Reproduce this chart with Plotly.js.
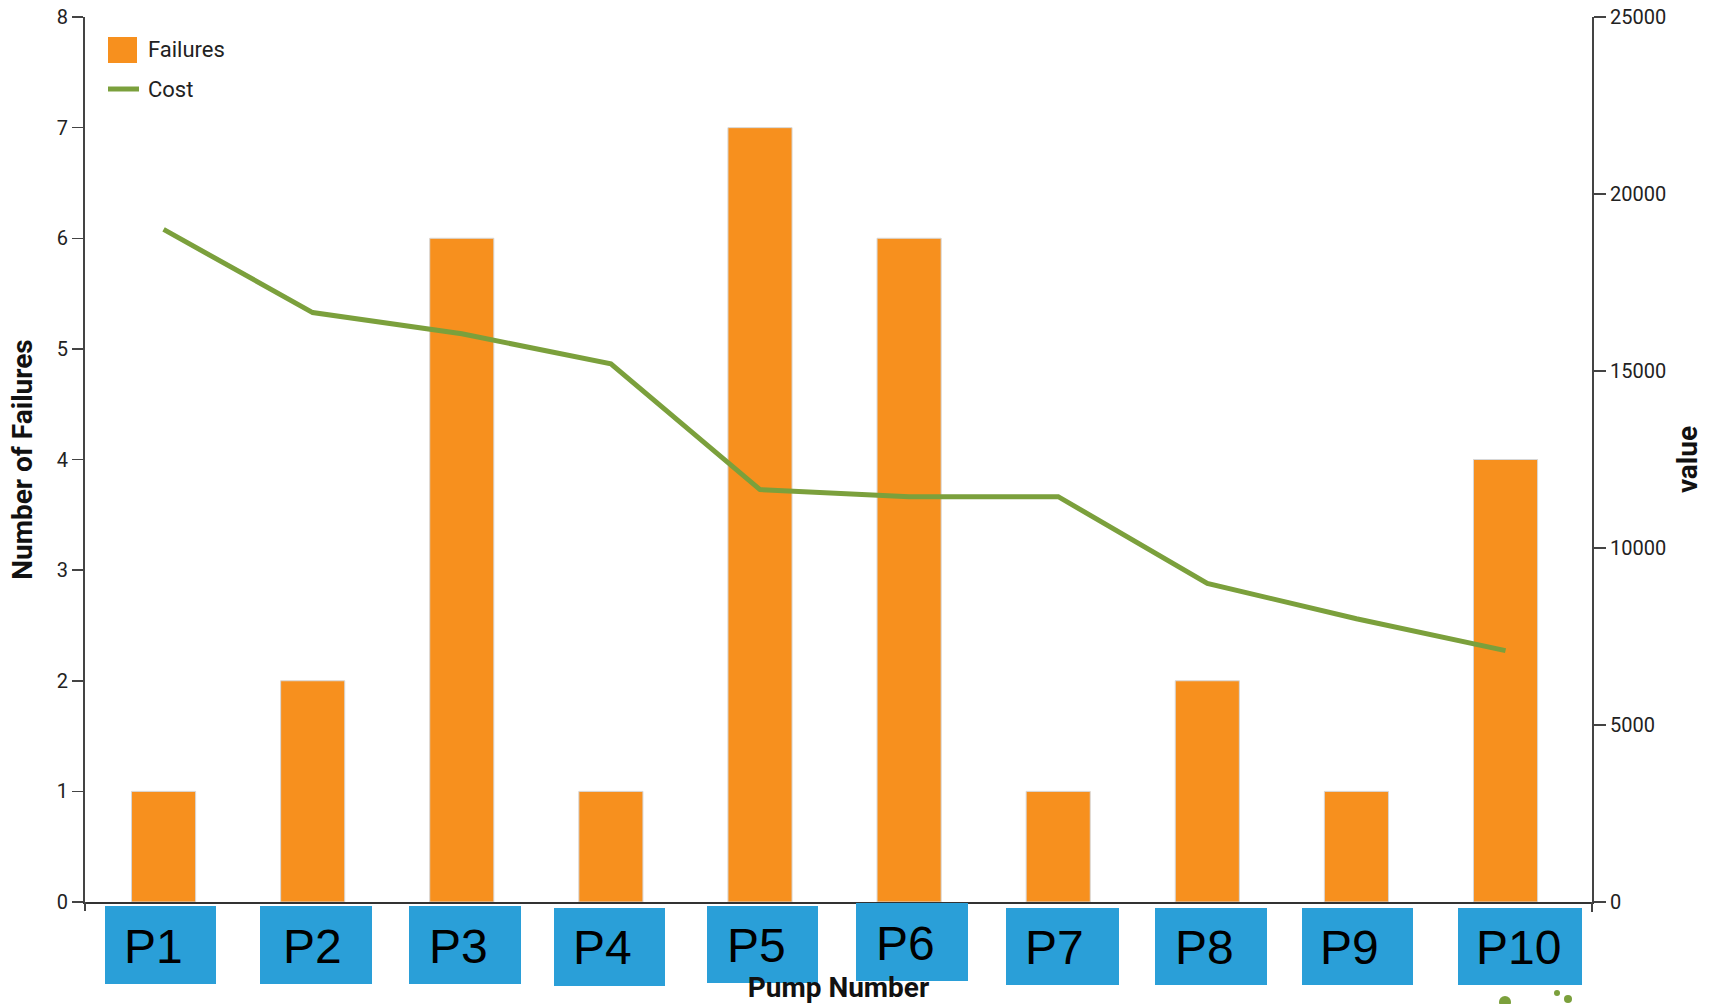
<!DOCTYPE html>
<html>
<head>
<meta charset="utf-8">
<script src="https://cdn.plot.ly/plotly-3.0.1.min.js"></script>
<style>html,body{margin:0;padding:0;background:#fff;}#chart{width:1711px;height:1004px;}</style>
</head>
<body>
<div id="chart"></div>
<script>
const pumps = ['P1','P2','P3','P4','P5','P6','P7','P8','P9','P10'];
const failures = [1, 2, 6, 1, 7, 6, 1, 2, 1, 4];
const cost = [19000, 16650, 16050, 15200, 11650, 11450, 11450, 9000, 8000, 7100];
const leftTicks = [0,1,2,3,4,5,6,7,8];
const rightTicks = [0,5000,10000,15000,20000,25000];

// Label box placement in page pixels (style only)
const boxLeftPx   = [105, 260, 409, 554, 707, 856, 1006, 1155, 1302, 1458];
const boxRightPx  = [216, 372, 521, 665, 818, 968, 1119, 1267, 1413, 1582];
const boxTopPx    = [906, 906, 906, 908, 906, 903, 908, 908, 908, 908];
const boxBottomPx = [984, 984, 984, 986, 983, 981, 985, 985, 985, 985];
const labelCenterPx = [153, 312, 458, 602, 756, 905, 1054, 1204, 1349, 1518];

const M = {l: 85, r: 119, t: 17, b: 102};
const W = 1711, H = 1004;
const PW = W - M.l - M.r, PH = H - M.t - M.b;
const px2x = p => (p - M.l) / PW;
const px2y = p => (H - M.b - p) / PH;

const tickFont = {family: 'Roboto, "DejaVu Sans", sans-serif', size: 20, color: '#222'};
const titleFont = {family: 'Roboto, "DejaVu Sans", sans-serif', size: 28, color: '#111', weight: 'bold'};
const legFont = {family: 'Roboto, sans-serif', size: 22, color: '#222'};

const traces = [
  {
    type: 'bar', name: 'Failures', x: pumps, y: failures,
    width: 0.43,
    marker: {color: '#F7901E', line: {color: 'rgba(215,215,215,1)', width: 1}},
    showlegend: false, hoverinfo: 'x+y'
  },
  {
    type: 'scatter', mode: 'lines', name: 'Cost', x: pumps, y: cost, yaxis: 'y2',
    line: {color: '#7BA03C', width: 5},
    showlegend: false
  }
];

const shapes = [];
pumps.forEach((p, i) => {
  shapes.push({
    type: 'rect', xref: 'paper', yref: 'paper',
    x0: px2x(boxLeftPx[i]), x1: px2x(boxRightPx[i]),
    y0: px2y(boxBottomPx[i]), y1: px2y(boxTopPx[i]),
    fillcolor: '#2A9FD8', line: {width: 0}, layer: 'above'
  });
});

const annotations = pumps.map((p, i) => ({
  xref: 'paper', yref: 'paper',
  x: px2x(labelCenterPx[i]), y: px2y((boxTopPx[i] + boxBottomPx[i]) / 2 + 1),
  xanchor: 'center', yanchor: 'middle',
  text: p, showarrow: false,
  font: {family: '"Liberation Sans", Arial, sans-serif', size: 48, color: '#000'}
}));

annotations.push(
  {xref: 'paper', yref: 'paper', x: px2x(146), y: px2y(50), xanchor: 'left', yanchor: 'middle',
   text: 'Failures', showarrow: false, font: legFont},
  {xref: 'paper', yref: 'paper', x: px2x(146), y: px2y(89), xanchor: 'left', yanchor: 'middle',
   text: 'Cost', showarrow: false, font: legFont}
);

shapes.push(
  {type: 'rect', xref: 'paper', yref: 'paper', x0: px2x(108), x1: px2x(137), y0: px2y(63), y1: px2y(37),
   fillcolor: '#F7901E', line: {width: 0}},
  {type: 'line', xref: 'paper', yref: 'paper', x0: px2x(108), x1: px2x(139), y0: px2y(89), y1: px2y(89),
   line: {color: '#7BA03C', width: 5}},
  {type: 'line', xref: 'paper', yref: 'paper', x0: 0, x1: 0, y0: 0, y1: px2y(911),
   line: {color: '#444', width: 2}},
  {type: 'line', xref: 'paper', yref: 'paper', x0: 1, x1: 1, y0: 0, y1: px2y(912),
   line: {color: '#444', width: 2}},
  // small green logo fragments at the bottom edge
  {type: 'circle', xref: 'paper', yref: 'paper', x0: px2x(1499), x1: px2x(1511), y0: px2y(1008), y1: px2y(996),
   fillcolor: '#7BA03C', line: {width: 0}},
  {type: 'circle', xref: 'paper', yref: 'paper', x0: px2x(1554), x1: px2x(1560), y0: px2y(996), y1: px2y(990),
   fillcolor: '#7BA03C', line: {width: 0}},
  {type: 'circle', xref: 'paper', yref: 'paper', x0: px2x(1564), x1: px2x(1572), y0: px2y(1003), y1: px2y(995),
   fillcolor: '#7BA03C', line: {width: 0}}
);

const layout = {
  width: W, height: H,
  margin: M,
  paper_bgcolor: '#fff', plot_bgcolor: '#fff',
  showlegend: false,
  xaxis: {
    type: 'category', range: [-0.527, 9.58],
    showline: true, linecolor: '#333', linewidth: 2,
    showgrid: false, zeroline: false, ticks: '', showticklabels: false,
    title: {text: 'Pump Number', font: titleFont, standoff: 76}
  },
  yaxis: {
    range: [0, 8], tickvals: leftTicks, ticktext: leftTicks.map(String),
    showline: true, linecolor: '#444', linewidth: 2,
    ticks: 'outside', ticklen: 11, tickwidth: 1.5, tickcolor: '#444',
    showgrid: false, zeroline: false, tickfont: tickFont,
    title: {text: 'Number of Failures', font: titleFont, standoff: 16}
  },
  yaxis2: {
    overlaying: 'y', side: 'right', range: [0, 25000],
    tickvals: rightTicks, ticktext: rightTicks.map(String),
    showline: true, linecolor: '#444', linewidth: 2,
    ticks: 'outside', ticklen: 12, tickwidth: 1.5, tickcolor: '#444',
    showgrid: false, zeroline: false, tickfont: tickFont,
    title: {text: 'value', font: titleFont, standoff: 12}
  },
  annotations: annotations,
  shapes: shapes
};

Plotly.newPlot('chart', traces, layout, {displayModeBar: false, staticPlot: true});
</script>
</body>
</html>
